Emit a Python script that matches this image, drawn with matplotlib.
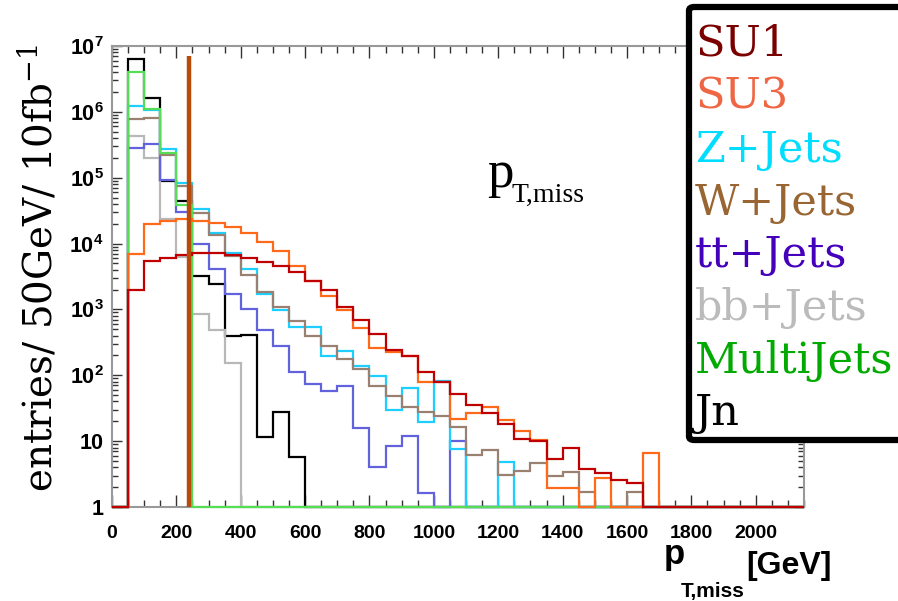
import numpy as np
import matplotlib
matplotlib.use("Agg")
import matplotlib.pyplot as plt
from matplotlib.ticker import FixedLocator, NullFormatter
from matplotlib.patches import FancyBboxPatch

plt.rcParams['mathtext.fontset'] = 'custom'
plt.rcParams['mathtext.rm'] = 'DejaVu Serif'
plt.rcParams['mathtext.bf'] = 'Liberation Sans:bold'
plt.rcParams['mathtext.it'] = 'DejaVu Serif:italic'

# ---------------- data (50 GeV bins, 0 .. 2150 GeV) ----------------
bin_width = 50
x_max = 2150

su1 = [0, 2000, 5350, 6000, 6700, 7150, 7150, 6700, 6000, 5300, 4600, 3760, 2700,
       1950, 1100, 680, 420, 245, 193, 112, 79, 52, 35, 26.7, 18.5, 10.8, 10.1, 5.3,
       7.9, 3.8, 3.3, 2.6, 2.3, 0, 0, 0, 0, 0, 0, 0, 0, 0, 0]
su3 = [0, 6900, 19700, 22300, 23700, 22300, 20400, 17700, 14400, 10700, 7800, 4500,
       2700, 1580, 980, 530, 260, 225, 198, 78, 80, 22, 26.7, 33, 20.7, 14.5, 10.5,
       1.94, 1.94, 0, 2.8, 0, 0, 6.7, 0, 0, 0, 0, 0, 0, 0, 0, 0]
zjets = [0, 1.24e6, 1.07e6, 2.74e5, 8.4e4, 3.4e4, 14400, 7150, 4120, 1700, 980, 540,
         540, 193, 230, 140, 96, 30, 64, 19.5, 83, 7.6, 0, 0, 4.8, 0, 0, 0, 0, 0, 0,
         0, 0, 0, 0, 0, 0, 0, 0, 0, 0, 0, 0]
wjets = [0, 7.8e5, 8.2e5, 2.2e5, 7.5e4, 2.95e4, 13500, 6450, 3350, 1870, 1100, 660,
         390, 280, 176, 125, 68, 49, 32.5, 27.7, 24.5, 16.3, 6.1, 7.4, 3.1, 3.5, 4.7,
         3.0, 3.4, 1.7, 0, 0, 1.7, 0, 0, 0, 0, 0, 0, 0, 0, 0, 0]
ttjets = [0, 2.8e5, 3.2e5, 9.3e4, 3.0e4, 1.0e4, 4100, 1720, 1000, 490, 280, 112, 75,
          57, 68, 15.8, 4.1, 8.3, 11.8, 1.63, 0, 9.9, 0, 0, 0, 0, 0, 0, 0, 0, 0, 0,
          0, 0, 0, 0, 0, 0, 0, 0, 0, 0, 0]
bbjets = [0, 4.3e5, 2.0e5, 2.4e4, 6200, 860, 490, 156, 0, 0, 0, 0, 0, 0, 0, 0, 0, 0,
          0, 0, 0, 0, 0, 0, 0, 0, 0, 0, 0, 0, 0, 0, 0, 0, 0, 0, 0, 0, 0, 0, 0, 0, 0]
multijets = [0, 4.0e6, 1.1e6, 2.4e5, 3.9e4, 0, 0, 0, 0, 0, 0, 0, 0, 0, 0, 0, 0, 0, 0,
             0, 0, 0, 0, 0, 0, 0, 0, 0, 0, 0, 0, 0, 0, 0, 0, 0, 0, 0, 0, 0, 0, 0, 0]
jn = [0, 6.3e6, 1.64e6, 8.9e4, 4.45e4, 3270, 2450, 400, 410, 11.4, 28, 5.7, 0, 0, 0,
      0, 0, 0, 0, 0, 0, 0, 0, 0, 0, 0, 0, 0, 0, 0, 0, 0, 0, 0, 0, 0, 0, 0, 0, 0, 0, 0, 0]

cut_x = 240
cut_top = 7.0e6

labels = ["SU1", "SU3", "Z+Jets", "W+Jets", "tt+Jets", "bb+Jets", "MultiJets", "Jn"]
label_colors = ["#7a0000", "#ee6644", "#00ddff", "#996633", "#4400bb", "#bbbbbb",
                "#00aa00", "#000000"]

x_ticks = [0, 200, 400, 600, 800, 1000, 1200, 1400, 1600, 1800, 2000]
y_ticks = [1, 10, 1e2, 1e3, 1e4, 1e5, 1e6, 1e7]
y_tick_labels = ["1", "10", r"$\mathbf{10^{2}}$", r"$\mathbf{10^{3}}$",
                 r"$\mathbf{10^{4}}$", r"$\mathbf{10^{5}}$", r"$\mathbf{10^{6}}$",
                 r"$\mathbf{10^{7}}$"]

# ---------------- figure ----------------
W, H = 898, 601
fig = plt.figure(figsize=(W / 100, H / 100), dpi=100)
fig.patch.set_facecolor("white")

def fx(px):
    return px / W

def fy(py):
    return 1 - py / H

ax = fig.add_axes([fx(112), fy(507), (804 - 112) / W, (507 - 46) / H])
ax.set_yscale("log")
ax.set_xlim(0, x_max)
ax.set_ylim(1, 1e7)

edges = np.arange(0, x_max + bin_width, bin_width)

series = [
    (jn, "#000000"),
    (bbjets, "#b8b8b8"),
    (ttjets, "#6262dd"),
    (zjets, "#1ccfff"),
    (wjets, "#9a8070"),
    (multijets, "#55dd55"),
    (su3, "#ff6a1a"),
    (su1, "#c00000"),
]
for vals, col in series:
    v = np.clip(np.asarray(vals, dtype=float), 1, None)
    ax.stairs(v, edges, baseline=None, color=col, lw=1.6, clip_on=False, zorder=3)

ax.vlines(cut_x, 1, cut_top, color="#b84a0a", lw=3.2, zorder=4)

# axes styling
for s in ax.spines.values():
    s.set_color("#999999")
    s.set_linewidth(1.5)

ax.xaxis.set_major_locator(FixedLocator(x_ticks))
ax.set_xticklabels([str(t) for t in x_ticks])
ax.xaxis.set_minor_locator(FixedLocator(np.arange(0, x_max + 1, 50)))
ax.yaxis.set_major_locator(FixedLocator(y_ticks))
ax.set_yticklabels(y_tick_labels)
minor_y = [m * 10 ** d for d in range(0, 7) for m in range(2, 10)]
ax.yaxis.set_minor_locator(FixedLocator(minor_y))
ax.yaxis.set_minor_formatter(NullFormatter())

ax.tick_params(axis="both", which="both", direction="in", top=True, right=True,
               color="#333333", width=1.0)
ax.tick_params(axis="x", which="major", length=8.5, pad=13, labelsize=14)
ax.tick_params(axis="x", which="minor", length=5)
ax.tick_params(axis="y", which="major", length=7, pad=6, labelsize=15.5)
ax.tick_params(axis="y", which="minor", length=4.5)
for lbl in ax.get_xticklabels() + ax.get_yticklabels():
    lbl.set_fontfamily("Liberation Sans")
    lbl.set_fontweight("bold")

# y label
fig.text(fx(38), fy(268), r"entries/ 50GeV/ 10fb$^{-1}$", rotation=90,
         ha="center", va="center", fontsize=28, family="DejaVu Serif")

# x label (bold sans)
fig.text(fx(664), fy(564), "p", fontsize=25, fontweight="bold",
         family="Liberation Sans", ha="left", va="baseline")
fig.text(fx(681), fy(597), "T,miss", fontsize=15, fontweight="bold",
         family="Liberation Sans", ha="left", va="baseline")
fig.text(fx(746), fy(574), "[GeV]", fontsize=23, fontweight="bold",
         family="Liberation Sans", ha="left", va="baseline")

# in-plot annotation
fig.text(fx(487), fy(187), "p", fontsize=38, family="Liberation Serif",
         ha="left", va="baseline")
fig.text(fx(512), fy(202), "T,miss", fontsize=20, family="Liberation Serif",
         ha="left", va="baseline")

# legend box
box = FancyBboxPatch((fx(689), fy(440)), fx(930) - fx(689), fy(7) - fy(440),
                     boxstyle="round,pad=0,rounding_size=0.006",
                     transform=fig.transFigure, facecolor="white",
                     edgecolor="black", lw=4.5, zorder=10, clip_on=False)
fig.patches.append(box)
baselines = [55, 108, 162, 215, 267, 320, 373, 425]
for lab, col, b in zip(labels, label_colors, baselines):
    fig.text(fx(695), fy(b), lab, color=col, fontsize=31, family="DejaVu Serif",
             ha="left", va="baseline", zorder=11)

fig.savefig("out.png", dpi=100)
